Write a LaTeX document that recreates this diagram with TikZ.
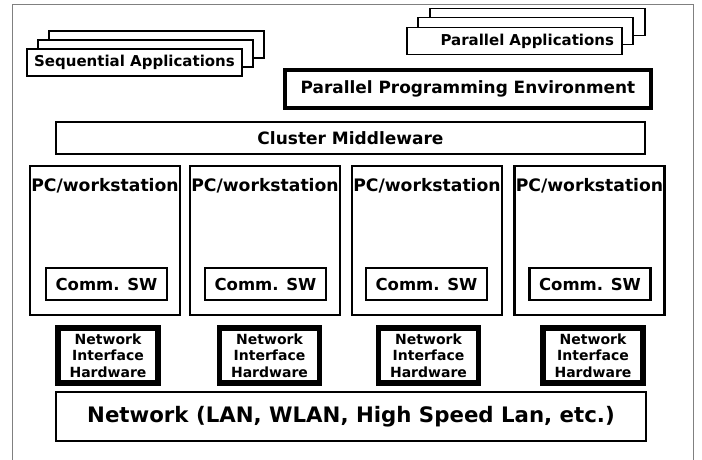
\documentclass[tikz,border=0pt]{standalone}
\usepackage{fontspec}
\setmainfont{DejaVu Sans}
\usepackage{tikz}
\usetikzlibrary{calc}

\tikzset{
	layer/.style={draw, rectangle, line width=2.4pt, fill=white, font=\bfseries},
	app/.style={layer, line width=1.8pt, minimum width=215pt, minimum height=27pt,
		inner sep=0pt, font=\fontsize{15}{17}\selectfont\bfseries},
	pc/.style={layer, line width=2.4pt, minimum width=150pt, minimum height=149pt},
	commsw/.style={layer, line width=2.4pt, minimum width=121pt, minimum height=32pt,
		inner sep=0pt, font=\fontsize{16.5}{18}\selectfont\bfseries},
	nic/.style={layer, line width=5.5pt, minimum width=100pt, minimum height=55pt,
		inner sep=0pt, align=center, font=\fontsize{14}{16.5}\selectfont\bfseries}
}

\begin{document}
\begin{tikzpicture}[x=1pt, y=-1pt]
	\def \pcy {240.5}
	\def \swy {284}
	\def \nicy {355.5}

	\useasboundingbox (0,0) rectangle (702,460);
	\draw[gray, line width=1pt] (12,460) -- (12,5) -- (693,5) -- (693,460);

	% stacked application windows
	\node[app] (seqback) at (134.5+22,62.5-18) {};
	\node[app] (seqmid)  at (134.5+11,62.5-9) {};
	\node[app] (seq)     at (134.5,62.5) {Sequential Applications};

	\node[app] (parback) at (514.5+23,41-19) {};
	\node[app] (parmid)  at (514.5+11,41-10) {};
	\node[app, text width=199pt, align=right] (par) at (514.5,41)
		{Parallel Applications};

	\node[layer, line width=4.5pt, minimum width=366pt, minimum height=38pt,
		inner sep=0pt, font=\fontsize{16.9}{19}\selectfont\bfseries] (ppe) at (468,89)
		{Parallel Programming Environment};

	\node[layer, minimum width=589pt, minimum height=32pt, inner sep=0pt,
		font=\fontsize{17}{19}\selectfont\bfseries] (middleware) at (350.5,138)
		{Cluster Middleware};

	% nodes of the cluster
	\node[pc] (pcA) at (105,\pcy) {};
	\node[pc] (pcB) at (265,\pcy) {};
	\node[pc] (pcC) at (427,\pcy) {};
	\node[pc] (pcD) at (589.5,\pcy) {};

	\foreach \p in {pcA, pcB, pcC, pcD}
		\node[font=\fontsize{17.2}{19}\selectfont\bfseries, inner sep=0pt]
			(\p-title) at ($(\p.north)+(0,21)$) {PC/workstation};

	\node[commsw] (swA) at (106.5,\swy) {Comm. SW};
	\node[commsw] (swB) at (265.5,\swy) {Comm. SW};
	\node[commsw] (swC) at (426.5,\swy) {Comm. SW};
	\node[commsw] (swD) at (590,\swy)   {Comm. SW};

	\node[nic] (nicA) at (108,\nicy)   {Network\\Interface\\Hardware};
	\node[nic] (nicB) at (269.5,\nicy) {Network\\Interface\\Hardware};
	\node[nic] (nicC) at (428.5,\nicy) {Network\\Interface\\Hardware};
	\node[nic] (nicD) at (593,\nicy)   {Network\\Interface\\Hardware};

	\node[layer, minimum width=590pt, minimum height=49pt, inner sep=0pt,
		font=\fontsize{21.3}{24}\selectfont\bfseries] (network) at (351,416.5)
		{Network (LAN, WLAN, High Speed Lan, etc.)};
\end{tikzpicture}
\end{document}
